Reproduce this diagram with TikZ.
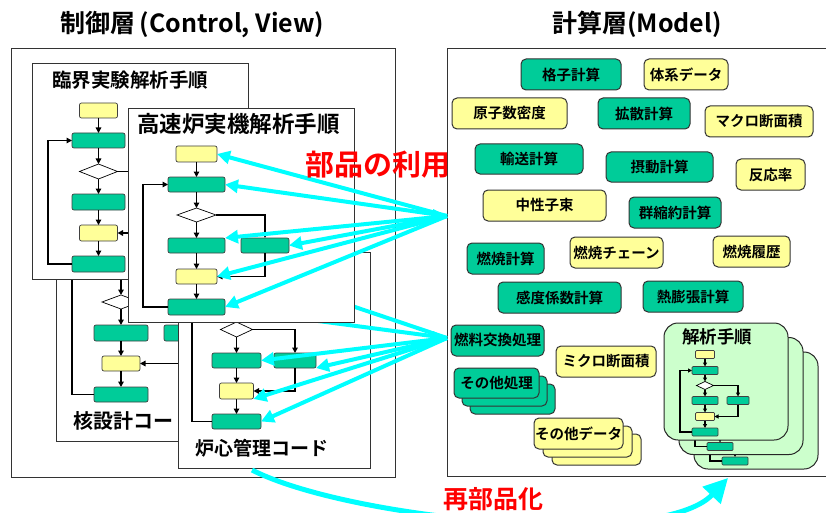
\documentclass[tikz,border=0pt]{standalone}
\usepackage{fontspec}
\newfontfamily\jp{Noto Sans CJK JP}[BoldFont={Noto Sans CJK JP Bold}]
\usetikzlibrary{arrows.meta,shapes.geometric}
\definecolor{mygreen}{RGB}{0,204,153}
\definecolor{myyellow}{RGB}{255,255,153}
\definecolor{mylight}{RGB}{204,255,204}
\definecolor{mycyan}{RGB}{0,255,255}
\definecolor{myred}{RGB}{255,0,0}
\tikzset{
  sbox/.style={draw=black!75, line width=0.7pt, rounded corners=2pt, inner sep=0pt, outer sep=0pt},
  gs/.style={sbox, fill=mygreen},
  ys/.style={sbox, fill=myyellow},
  dia/.style={diamond, draw=black, line width=0.7pt, fill=white, inner sep=0pt, outer sep=0pt},
  flow/.style={black, line width=1.5pt, -{Triangle[length=5.5pt,width=5.5pt]}},
  cflow/.style={black, line width=1.1pt, -{Triangle[length=4pt,width=4pt]}},
  panel/.style={draw=black!80, line width=0.9pt, fill=white, inner sep=0pt, outer sep=0pt},
  frame/.style={draw=black!80, line width=1pt, inner sep=0pt, outer sep=0pt},
  ptitle/.style={anchor=west, inner sep=0pt, font=\jp\bfseries\fontsize{#1}{#1}\selectfont},
  bb/.style={draw=black!80, line width=1pt, rounded corners=5pt, inner sep=0pt, outer sep=0pt, font=\jp\bfseries\fontsize{14.5}{16}\selectfont},
  gb/.style={bb, fill=mygreen},
  yb/.style={bb, fill=myyellow},
  card/.style={draw=black!85, line width=1pt, fill=mylight, rounded corners=14pt, inner sep=0pt, outer sep=0pt},
  cyanarr/.style={draw=mycyan, line width=4pt, -{Triangle[length=13pt,width=13pt]}},
  sz/.style 2 args={minimum width=#1pt, minimum height=#2pt},
  bigtitle/.style={inner sep=0pt, font=\jp\bfseries\fontsize{25}{25}\selectfont},
  redtxt/.style={inner sep=0pt, text=myred, font=\jp\bfseries\fontsize{#1}{#1}\selectfont},
}
\begin{document}
\begin{tikzpicture}[x=1pt,y=-1pt]
\useasboundingbox (0,0) rectangle (826,513);
\clip (0,0) rectangle (826,513);
\fill[white] (0,0) rectangle (826,513);

% outer frames and titles
\node[frame, sz={384}{428}] (outL) at (203,263) {};
\node[frame, sz={385}{427}] (outR) at (639.5,262.5) {};
\node[bigtitle] (tl) at (192.5,25) {制御層\hspace{4pt}(Control, View)};
\node[bigtitle] (tr) at (637,24) {計算層(Model)};

% ---------- panel 3 : 核設計コード ----------
\node[panel, sz={244}{221}] (pan3) at (178,330.5) {};
\node[ys, sz={38}{15}] (p3y1) at (121,238) {};
\node[gs, sz={54}{15}] (p3g1) at (121,269) {};
\node[dia, sz={38}{14}] (p3d) at (121,302) {};
\node[gs, sz={54}{16}] (p3gA) at (121,333) {};
\node[gs, sz={54}{16}] (p3gB) at (191,333) {};
\node[ys, sz={38}{15}] (p3y2) at (121,363.5) {};
\node[gs, sz={54}{15}] (p3gC) at (121,394.5) {};
\draw[flow] (p3y1) -- (p3g1);
\draw[flow] (p3g1) -- (p3d);
\draw[flow] (p3d) -- (p3gA);
\draw[flow] (p3gA) -- (p3y2);
\draw[flow] (p3y2) -- (p3gC);
\draw[flow] (p3gC.west) -- ++(-22,0) |- (p3g1.west);
\draw[flow] (p3d.east) -| (p3gB.north);
\draw[flow] (p3gB.south) |- (p3y2.east);
\node[ptitle=20] (t3) at (73,421) {核設計コード};

% ---------- panel 1 : 臨界実験解析手順 ----------
\node[panel, sz={216}{216}] (pan1) at (140,171) {};
\node[ys, sz={38}{15}] (p1y1) at (98.5,110.5) {};
\node[gs, sz={53}{15}] (p1g1) at (98.5,140.5) {};
\node[dia, sz={38}{15}] (p1d) at (98.5,171.5) {};
\node[gs, sz={53}{16}] (p1g2) at (98.5,202) {};
\node[gs, sz={53}{16}] (p1gB) at (168,202) {};
\node[ys, sz={38}{16}] (p1y2) at (98.5,233) {};
\node[gs, sz={53}{16}] (p1g3) at (98.5,264) {};
\draw[flow] (p1y1) -- (p1g1);
\draw[flow] (p1g1) -- (p1d);
\draw[flow] (p1d) -- (p1g2);
\draw[flow] (p1g2) -- (p1y2);
\draw[flow] (p1y2) -- (p1g3);
\draw[flow] (p1g3.west) -- ++(-24,0) |- (p1g1.west);
\draw[flow] (p1d.east) -| (p1gB.north);
\draw[flow] (p1gB.south) |- (p1y2.east);
\node[ptitle=19.5] (t1) at (52,80) {臨界実験解析手順};

% ---------- panel 4 : 炉心管理コード ----------
\node[panel, sz={192}{216}] (pan4) at (274,360) {};
\node[ys, sz={34}{16}] (p4y1) at (236.5,270) {};
\node[gs, sz={49}{15}] (p4g1) at (236.5,300) {};
\node[dia, sz={32}{15}] (p4d) at (236.5,329.5) {};
\node[gs, sz={49}{15}] (p4gA) at (236.5,360.5) {};
\node[gs, sz={42}{15}] (p4gB) at (295,360.5) {};
\node[ys, sz={34}{16}] (p4y) at (236.5,391) {};
\node[gs, sz={49}{15}] (p4gC) at (236.5,421.5) {};
\draw[flow] (p4y1) -- (p4g1);
\draw[flow] (p4g1) -- (p4d);
\draw[flow] (p4d) -- (p4gA);
\draw[flow] (p4gA) -- (p4y);
\draw[flow] (p4y) -- (p4gC);
\draw[flow] (p4gC.west) -- ++(-20,0) |- (p4g1.west);
\draw[flow] (p4d.east) -| (p4gB.north);
\draw[flow] (p4gB.south) |- (p4y.east);
\node[ptitle=19] (t4) at (195,448) {炉心管理コード};

% hubs and the cyan lines hidden behind panel 2
\coordinate (hub1) at (447,216);
\coordinate (hub2) at (447,338);
\coordinate (h2a) at (260,275);
\coordinate (h2b) at (250,312);
\draw[cyanarr] (hub2) -- (h2a);
\draw[cyanarr] (hub2) -- (h2b);

% ---------- panel 2 : 高速炉実機解析手順 ----------
\node[panel, sz={226}{214}] (pan2) at (241,215) {};
\node[ys, sz={41}{16}] (p2y1) at (196.5,154) {};
\node[gs, sz={57}{15}] (p2g1) at (196.5,184.5) {};
\node[dia, sz={39}{14}] (p2d) at (196.5,215) {};
\node[gs, sz={57}{15}] (p2gA) at (196.5,245.5) {};
\node[gs, sz={48}{15}] (p2gB) at (265,245.5) {};
\node[ys, sz={41}{15}] (p2y2) at (196.5,276.5) {};
\node[gs, sz={57}{16}] (p2gC) at (196.5,307) {};
\draw[flow] (p2y1) -- (p2g1);
\draw[flow] (p2g1) -- (p2d);
\draw[flow] (p2d) -- (p2gA);
\draw[flow] (p2gA) -- (p2y2);
\draw[flow] (p2y2) -- (p2gC);
\draw[flow] (p2gC.west) -- ++(-25,0) |- (p2g1.west);
\draw[flow] (p2d.east) -| (p2gB.north);
\draw[flow] (p2gB.south) |- (p2y2.east);
\node[ptitle=22.5] (t2) at (137,124) {高速炉実機解析手順};

% ---------- cyan fans ----------
\foreach \t in {p2y1.east, p2g1.east, p2gA.north east, p2gB.east, p2y2.east, p2gC.east}
  \draw[cyanarr] (hub1) -- (\t);
\foreach \t in {p4gA.east, p4gB.south east, p4y.south east, p4gC.east}
  \draw[cyanarr] (hub2) -- (\t);
\fill[mycyan] (hub1) -- ++(-14,-7) -- ++(0,14) -- cycle;
\fill[mycyan] (hub2) -- ++(-14,-7) -- ++(0,14) -- cycle;
\node[redtxt=29] (use) at (378,165) {部品の利用};

% ---------- right panel : components ----------
\node[gb, sz={100}{31}] (k1) at (571,74.5) {格子計算};
\node[yb, sz={84}{31}] (k2) at (686,74.5) {体系データ};
\node[yb, sz={115}{31}] (k3) at (509.5,113.5) {原子数密度};
\node[gb, sz={92}{31}] (k4) at (644,113.5) {拡散計算};
\node[yb, sz={108}{31}] (k5) at (759,121.5) {マクロ断面積};
\node[gb, sz={108}{30}] (k6) at (529,159) {輸送計算};
\node[gb, sz={107}{30}] (k7) at (659.5,167) {摂動計算};
\node[yb, sz={69}{31}] (k8) at (770.5,174.5) {反応率};
\node[yb, sz={123}{31}] (k9) at (544.5,205.5) {中性子束};
\node[gb, sz={92}{31}] (k10) at (675,212.5) {群縮約計算};
\node[gb, sz={77}{31}] (k11) at (505.5,258.5) {燃焼計算};
\node[yb, sz={93}{31}] (k12) at (616.5,252.5) {燃焼チェーン};
\node[yb, sz={77}{31}] (k13) at (751.5,251.5) {燃焼履歴};
\node[gb, sz={123}{31}] (k14) at (559.5,297.5) {感度係数計算};
\node[gb, sz={100}{31}] (k15) at (693,296.5) {熱膨張計算};
\node[gb, sz={93}{31}] (k16) at (497.5,340.5) {燃料交換処理};
\node[yb, sz={100}{31}] (k17) at (606,361.5) {ミクロ断面積};
% stacked: その他処理
\node[gb, sz={85}{30}] (o3) at (512.5,399) {};
\node[gb, sz={85}{30}] (o2) at (504.5,391) {};
\node[gb, sz={85}{30}] (o1) at (496.5,383) {その他処理};
% stacked: その他データ
\node[yb, sz={89}{31}] (d3) at (596.5,449.5) {};
\node[yb, sz={89}{31}] (d2) at (587.5,441.5) {};
\node[yb, sz={89}{31}] (d1) at (578.5,433.5) {その他データ};

% stacked cards: 解析手順
\foreach \s in {2,1,0}{
\begin{scope}[shift={(15*\s,14.5*\s)}]
  \node[card, sz={124}{117}] (c\s) at (726,381.5) {};
  \ifnum\s=0 \node[ptitle=17.5] (c\s-t) at (682,337) {解析手順};\fi
  \node[ys, sz={19}{8}, rounded corners=1pt] (c\s-y1) at (705,354.5) {};
  \node[gs, sz={26}{8}, rounded corners=1pt] (c\s-g1) at (705,370.5) {};
  \node[dia, sz={17}{8}] (c\s-d) at (705,385.5) {};
  \node[gs, sz={26}{8}, rounded corners=1pt] (c\s-gA) at (705,400.5) {};
  \node[gs, sz={22}{8}, rounded corners=1pt] (c\s-gB) at (738,400.5) {};
  \node[ys, sz={19}{8}, rounded corners=1pt] (c\s-y2) at (705,416.5) {};
  \node[gs, sz={26}{8}, rounded corners=1pt] (c\s-gC) at (705,432) {};
  \draw[cflow] (c\s-y1) -- (c\s-g1);
  \draw[cflow] (c\s-g1) -- (c\s-d);
  \draw[cflow] (c\s-d) -- (c\s-gA);
  \draw[cflow] (c\s-gA) -- (c\s-y2);
  \draw[cflow] (c\s-y2) -- (c\s-gC);
  \draw[cflow] (c\s-gC.west) -- ++(-12,0) |- (c\s-g1.west);
  \draw[cflow] (c\s-d.east) -| (c\s-gB.north);
  \draw[cflow] (c\s-gB.south) |- (c\s-y2.east);
\end{scope}
}

% ---------- re-componentization arrow ----------
\coordinate (rs) at (252,470);
\coordinate (re) at (728,478);
\draw[mycyan, line width=5pt, -{Triangle[length=24pt,width=24pt]}] (rs) .. controls (350,520) and (660,550) .. (re);
\node[redtxt=25] (recomp) at (493,499) {再部品化};
\end{tikzpicture}
\end{document}
